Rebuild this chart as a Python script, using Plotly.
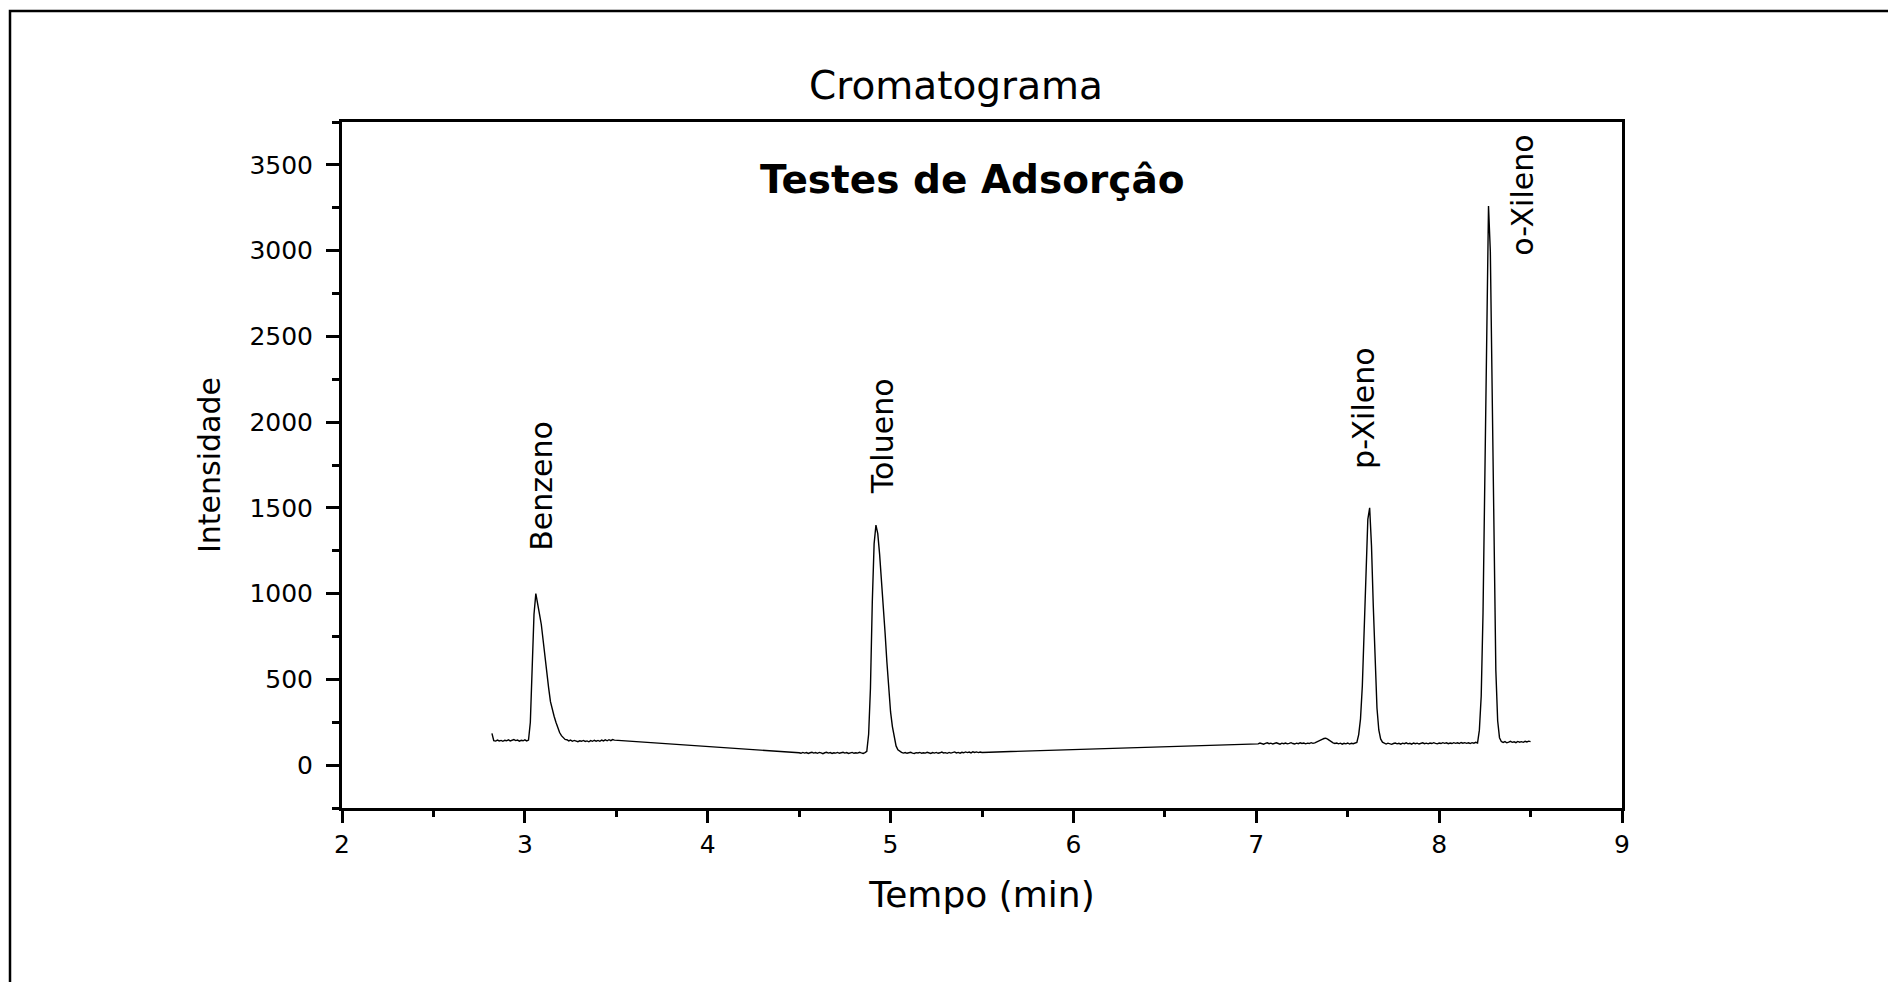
import numpy as np
import plotly.graph_objects as go

# Detector sampling interval (min)
STEP = 0.01

# Recorded windows of the run: start time (min) and intensity samples
benzeno_start = 2.82
benzeno_vals = [
    185, 143, 140, 146, 141, 144, 139, 145,                  # 2.82
    142, 147, 141, 144, 149, 143, 146, 140, 145, 142,        # 2.90
    147, 141, 146, 250, 560, 880, 1000, 950, 880, 820,       # 3.00
    720, 620, 540, 450, 370, 320, 285, 250, 215, 190,        # 3.10
    172, 160, 150, 148, 141, 146, 139, 144, 141, 137,        # 3.20
    142, 139, 144, 138, 141, 136, 143, 139, 145, 140,        # 3.30
    144, 139, 146, 141, 147, 142, 148, 143, 149, 146,        # 3.40
]

tolueno_start = 4.50
tolueno_vals = [
    72, 69, 74, 70, 73, 68, 72, 75, 70, 73,                  # 4.50
    69, 74, 71, 67, 72, 75, 70, 73, 68, 72,                  # 4.60
    70, 74, 69, 72, 75, 70, 73, 68, 71, 74,                  # 4.70
    69, 72, 70, 75, 71, 68, 73, 80, 180, 450,                # 4.80
    950, 1290, 1400, 1350, 1230, 1090, 921, 770, 600, 450,   # 4.90
    310, 225, 160, 112, 90, 80, 74, 70, 73, 69,              # 5.00
    72, 75, 70, 68, 73, 71, 74, 69, 72, 70,                  # 5.10
    75, 71, 68, 73, 70, 74, 69, 72, 76, 71,                  # 5.20
    73, 69, 74, 70, 72, 77, 71, 74, 70, 75,                  # 5.30
    72, 77, 73, 76, 71, 78, 74, 77, 73, 76,                  # 5.40
    74,                                                      # 5.50
]

xilenos_start = 7.00
xilenos_vals = [
    127, 124, 129, 125, 122, 127, 130, 125, 128, 123,        # 7.00
    127, 130, 126, 122, 128, 125, 129, 124, 127, 131,        # 7.10
    126, 123, 128, 125, 130, 126, 129, 124, 128, 126,        # 7.20
    131, 127, 130, 134, 138, 145, 150, 155, 157, 152,        # 7.30
    143, 136, 130, 126, 129, 124, 128, 122, 127, 124,        # 7.40
    129, 123, 127, 125, 129, 132, 178, 270, 463, 775,        # 7.50
    1146, 1433, 1500, 1280, 923, 575, 333, 205, 153, 134,    # 7.60
    127, 123, 128, 125, 121, 126, 129, 124, 127, 122,        # 7.70
    128, 125, 130, 124, 127, 122, 129, 125, 128, 123,        # 7.80
    127, 130, 125, 128, 124, 129, 126, 131, 127, 124,        # 7.90
    129, 126, 131, 127, 130, 125, 129, 126, 131, 127,        # 8.00
    130, 126, 132, 128, 131, 127, 130, 126, 131, 128,        # 8.10
    133, 129, 204, 402, 888, 1732, 2693, 3260, 2994, 2127,   # 8.20
    1186, 554, 259, 160, 138, 132, 137, 130, 134, 139,       # 8.30
    133, 136, 131, 138, 134, 137, 133, 139, 135, 140,        # 8.40
    137,                                                     # 8.50
]

# Peak labels: compound, label position (min, intensity)
compostos = ["Benzeno", "Tolueno", "p-Xileno", "o-Xileno"]
rotulo_t = [3.087, 4.957, 7.589, 8.455]
rotulo_y = [1627, 1916, 2083, 3322]


def tempos(start, vals):
    return np.round(start + STEP * np.arange(len(vals)), 3)


t = np.concatenate([tempos(benzeno_start, benzeno_vals),
                    tempos(tolueno_start, tolueno_vals),
                    tempos(xilenos_start, xilenos_vals)])
y = np.concatenate([benzeno_vals, tolueno_vals, xilenos_vals])

FONT = "DejaVu Sans"

fig = go.Figure()
fig.add_trace(go.Scatter(x=t, y=y, mode="lines",
                         line=dict(color="black", width=1.4),
                         hoverinfo="x+y"))

for nome, tx, ty in zip(compostos, rotulo_t, rotulo_y):
    fig.add_annotation(x=tx, y=ty, xref="x", yref="y", text=nome,
                       textangle=-90, showarrow=False,
                       xanchor="center", yanchor="middle",
                       font=dict(family=FONT, size=30, color="black"))

fig.add_annotation(x=5.45, y=3415, xref="x", yref="y",
                   text="<b>Testes de Adsorçâo</b>", showarrow=False,
                   xanchor="center", yanchor="middle",
                   font=dict(family=FONT, size=39, color="black"))

# Outer frame around the figure
fig.add_shape(type="rect", xref="paper", yref="paper",
              x0=(10 - 342) / 1280, x1=(1910 - 342) / 1280,
              y0=(808 - 1010) / 686, y1=(808 - 11) / 686,
              line=dict(color="black", width=2.5), fillcolor="rgba(0,0,0,0)",
              layer="above")

fig.update_layout(
    width=1888, height=982,
    margin=dict(l=342, r=266, t=122, b=174),
    paper_bgcolor="white", plot_bgcolor="white",
    font=dict(family=FONT, color="black"),
    showlegend=False,
    title=dict(text="Cromatograma", xref="container", yref="container",
               x=956 / 1888, y=1 - 85 / 982, xanchor="center", yanchor="middle",
               font=dict(family=FONT, size=39, color="black")),
)

fig.update_xaxes(
    range=[2, 9], tick0=2, dtick=1,
    ticks="outside", ticklen=12, tickwidth=3, tickcolor="black",
    showline=True, linewidth=3, linecolor="black", mirror=True,
    showgrid=False, zeroline=False,
    tickfont=dict(family=FONT, size=25, color="black"),
    minor=dict(dtick=0.5, ticks="outside", ticklen=6, tickwidth=3,
               tickcolor="black", showgrid=False),
    title=dict(text="Tempo (min)", standoff=24,
               font=dict(family=FONT, size=36, color="black")),
)

fig.update_yaxes(
    range=[-250, 3750], tick0=0, dtick=500,
    ticks="outside", ticklen=13, tickwidth=3, tickcolor="black",
    showline=True, linewidth=3, linecolor="black", mirror=True,
    showgrid=False, zeroline=False,
    tickfont=dict(family=FONT, size=25, color="black"),
    ticklabelstandoff=8,
    minor=dict(dtick=250, ticks="outside", ticklen=7, tickwidth=3,
               tickcolor="black", showgrid=False),
    title=dict(text="Intensidade", standoff=20,
               font=dict(family=FONT, size=30, color="black")),
)

fig.write_html("out.html")
